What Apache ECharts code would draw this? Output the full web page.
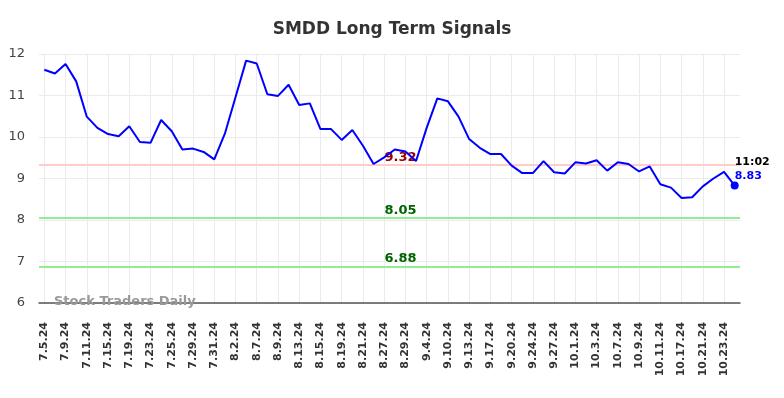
<!DOCTYPE html>
<html>
<head>
<meta charset="utf-8">
<script src="https://cdn.jsdelivr.net/npm/echarts@6.0.0/dist/echarts.min.js"></script>
<style>
  html, body { margin: 0; padding: 0; background: #fff; }
  #chart { width: 784px; height: 398px; }
</style>
</head>
<body>
<div id="chart"></div>
<script>
var dates = [
  '7.5.24', '7.8.24', '7.9.24', '7.10.24', '7.11.24', '7.12.24', '7.15.24', '7.17.24',
  '7.19.24', '7.22.24', '7.23.24', '7.24.24', '7.25.24', '7.26.24', '7.29.24', '7.30.24',
  '7.31.24', '8.1.24', '8.2.24', '8.6.24', '8.7.24', '8.8.24', '8.9.24', '8.12.24',
  '8.13.24', '8.14.24', '8.15.24', '8.16.24', '8.19.24', '8.20.24', '8.21.24', '8.23.24',
  '8.27.24', '8.28.24', '8.29.24', '9.3.24', '9.4.24', '9.6.24', '9.10.24', '9.12.24',
  '9.13.24', '9.16.24', '9.17.24', '9.19.24', '9.20.24', '9.23.24', '9.24.24', '9.26.24',
  '9.27.24', '9.30.24', '10.1.24', '10.2.24', '10.3.24', '10.4.24', '10.7.24', '10.8.24',
  '10.9.24', '10.10.24', '10.11.24', '10.15.24', '10.17.24', '10.18.24', '10.21.24', '10.22.24',
  '10.23.24', '10.24.24'
];
var prices = [
  11.62, 11.53, 11.76, 11.34, 10.49, 10.22, 10.07, 10.02,
  10.26, 9.88, 9.86, 10.41, 10.14, 9.70, 9.72, 9.64,
  9.46, 10.08, 10.96, 11.84, 11.77, 11.03, 10.99, 11.26,
  10.77, 10.81, 10.19, 10.19, 9.93, 10.17, 9.79, 9.35,
  9.51, 9.70, 9.65, 9.42, 10.22, 10.93, 10.86, 10.49,
  9.95, 9.74, 9.59, 9.59, 9.31, 9.13, 9.13, 9.42,
  9.15, 9.12, 9.39, 9.36, 9.44, 9.19, 9.39, 9.35,
  9.17, 9.29, 8.86, 8.78, 8.53, 8.55, 8.81, 9.00,
  9.16, 8.83
];
var resistance = 9.32;
var supports = [8.05, 6.88];
var lastTime = '11:02';
var yTicks = [6, 7, 8, 9, 10, 11, 12];

var FONT = 'DejaVu Sans';
var myChart = echarts.init(document.getElementById('chart'));
var lastIdx = prices.length - 1;

var option = {
  animation: false,
  backgroundColor: '#fff',
  title: {
    text: 'SMDD Long Term Signals',
    left: 'center',
    top: 16,
    textStyle: { fontFamily: FONT, fontSize: 17, fontWeight: 'bold', color: '#333' }
  },
  graphic: [{
    type: 'text',
    left: 54,
    top: 295,
    z: 10,
    style: {
      text: 'Stock Traders Daily',
      fontFamily: FONT,
      fontSize: 13,
      fontWeight: 'bold',
      fill: '#999'
    }
  }],
  grid: { left: 39, right: 44, top: 54, bottom: 95, containLabel: false },
  xAxis: {
    type: 'category',
    data: dates,
    boundaryGap: true,
    axisLine: { show: true, lineStyle: { color: '#555', width: 1.5 } },
    axisTick: { show: false, alignWithLabel: true, interval: 1 },
    axisLabel: {
      interval: 1,
      rotate: 90,
      margin: 19,
      fontFamily: FONT,
      fontSize: 11,
      fontWeight: 'bold',
      color: '#333'
    },
    splitLine: { show: true, interval: 1, alignWithLabel: true, lineStyle: { color: '#ebebeb', width: 1 } }
  },
  yAxis: {
    type: 'value',
    min: yTicks[0],
    max: yTicks[yTicks.length - 1],
    interval: 1,
    axisLine: { show: false },
    axisTick: { show: false },
    axisLabel: { margin: 14, fontFamily: FONT, fontSize: 13, color: '#444' },
    splitLine: { lineStyle: { color: '#ebebeb', width: 1 } }
  },
  series: [
    {
      type: 'line',
      data: prices,
      symbol: 'none',
      lineStyle: { color: '#0000ff', width: 2 },
      z: 5,
      markLine: {
        silent: true,
        symbol: 'none',
        animation: false,
        data: [
          {
            yAxis: resistance,
            lineStyle: { color: '#ffcccc', width: 2, type: 'solid' },
            label: { color: '#990000' }
          },
          {
            yAxis: supports[0],
            lineStyle: { color: '#90ee90', width: 2, type: 'solid' },
            label: { color: '#006400' }
          },
          {
            yAxis: supports[1],
            lineStyle: { color: '#90ee90', width: 2, type: 'solid' },
            label: { color: '#006400' }
          }
        ],
        label: {
          position: 'middle',
          distance: 1,
          offset: [11, 0],
          fontFamily: FONT,
          fontSize: 13,
          fontWeight: 'bold',
          formatter: function (p) { return p.value.toFixed(2); }
        }
      }
    },
    {
      type: 'scatter',
      data: [[lastIdx, prices[lastIdx]]],
      symbolSize: 8,
      itemStyle: { color: '#0000ff', opacity: 1 },
      z: 6,
      label: {
        show: true,
        position: [4, -26],
        formatter: '{t|' + lastTime + '}\n{v|' + prices[lastIdx].toFixed(2) + '}',
        rich: {
          t: { fontFamily: FONT, fontSize: 11, fontWeight: 'bold', color: '#000', lineHeight: 14 },
          v: { fontFamily: FONT, fontSize: 11, fontWeight: 'bold', color: '#0000ff', lineHeight: 14 }
        }
      }
    }
  ]
};

window.addEventListener('resize', function () {
  myChart.resize();
});
myChart.setOption(option, true);
</script>
</body>
</html>
